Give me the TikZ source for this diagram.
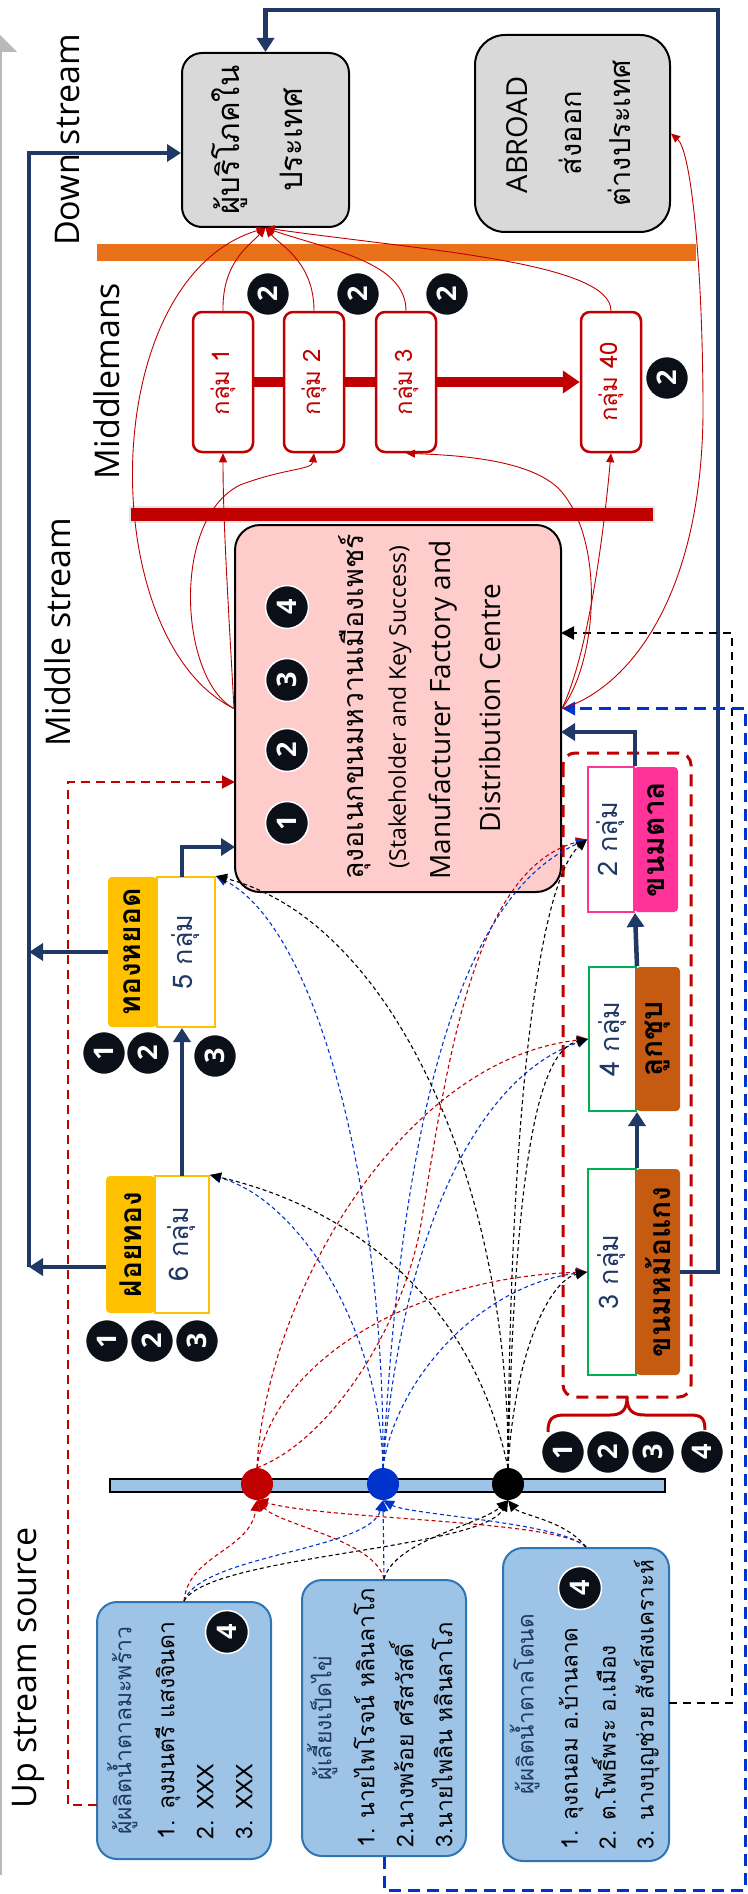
\documentclass[tikz,border=0pt]{standalone}
\usepackage{fontspec}
\setmainfont{Open Sans}
\newfontfamily\thai[Script=Thai]{Loma}
\usetikzlibrary{arrows.meta,calc}
\definecolor{navy}{HTML}{203864}
\definecolor{dred}{HTML}{C00000}
\definecolor{obar}{HTML}{E97119}
\definecolor{pinkfill}{HTML}{FFCCCC}
\definecolor{cgray}{HTML}{D9D9D9}
\definecolor{gold}{HTML}{FFC000}
\definecolor{kbrown}{HTML}{C55A11}
\definecolor{hotpink}{HTML}{FF3399}
\definecolor{kgreen}{HTML}{00B050}
\definecolor{lblue}{HTML}{9DC3E6}
\definecolor{bborder}{HTML}{2E75B6}
\definecolor{dblue}{HTML}{0033CC}
\definecolor{nblack}{HTML}{0B0F17}
\newcommand\rot[1]{\rotatebox{90}{#1}}
\newcommand\fsz[2]{\fontsize{#1}{#2}\selectfont}
\tikzset{
  lbl/.style={font=\fsz{34}{40}, inner sep=0pt},
  txt/.style={inner sep=0pt},
  numc/.style={circle, fill=nblack, draw=white, line width=1.5pt, minimum size=43pt, inner sep=0pt, text=white, font=\bfseries\fsz{27}{27}},
  navyarr/.style={draw=navy, line width=4.5pt, -{Triangle[length=14pt,width=17pt]}},
  rarr/.style={draw=dred, line width=0.9pt, -{Triangle[length=9pt,width=8pt]}},
  dsh/.style={line width=1.1pt, dash pattern=on 4pt off 3pt, -{Triangle[length=11pt,width=10pt]}},
  cbox/.style={draw=black, line width=2pt, fill=cgray, rounded corners=20pt, inner sep=0pt},
  mbox/.style={draw=dred, line width=2.5pt, fill=white, rounded corners=9pt, minimum width=60pt, minimum height=140pt, inner sep=0pt, text=dred, font=\thai\fsz{24}{24}},
  kwhite/.style={fill=white, line width=2pt, inner sep=0pt, text=navy, font=\thai\fsz{27}{27}},
  klabel/.style={rounded corners=4pt, inner sep=0pt, text=black, font=\thai\bfseries\fsz{30}{30}},
  sbox/.style={draw=bborder, line width=2pt, fill=lblue, rounded corners=20pt, inner sep=0pt},
  dotc/.style={circle, minimum size=32pt, inner sep=0pt}
}
\begin{document}
\begin{tikzpicture}[x=1pt,y=-1pt]
\useasboundingbox (0,0) rectangle (747,1894);
% axis arrow at the left edge
\draw[gray!55, line width=1.5pt] (1,1875) -- (1,50);
\fill[gray!55] (-17,52) -- (17,52) -- (0,35) -- cycle;

% stage labels
\node[lbl] (lup) at (28,1668) {\rot{Up stream source}};
\node[lbl] (ldown) at (68,140) {\rot{Down stream}};
\node[lbl] (lmid) at (58,632) {\rot{Middle stream}};
\node[lbl] (lmm) at (107,381) {\rot{Middlemans}};

% bars
\fill[obar] (97,244) rectangle (696,261);
\fill[gray!20] (129,506) rectangle (655,523);
\fill[dred] (131,508) rectangle (653,521);

% consumers
\node[cbox, minimum width=167pt, minimum height=174pt] (cons) at (265.5,140) {};
\node[txt, font=\thai\fsz{31}{31}] (consA) at (230,140) {\rot{ผู้บริโภคใน}};
\node[txt, font=\thai\fsz{31}{31}] (consB) at (291,140) {\rot{ประเทศ}};
\node[cbox, rounded corners=30pt, minimum width=195pt, minimum height=197pt] (abroad) at (572.5,133.5) {};
\node[txt, font=\fsz{29}{29}] (abA) at (517,135) {\rot{ABROAD}};
\node[txt, font=\thai\fsz{29}{29}] (abB) at (570,133) {\rot{ส่งออก}};
\node[txt, font=\thai\fsz{29}{29}] (abC) at (619,133) {\rot{ต่างประเทศ}};

% middlemen
\node[mbox] (g1) at (223,382) {\rot{กลุ่ม 1}};
\node[mbox] (g2) at (314,382) {\rot{กลุ่ม 2}};
\node[mbox] (g3) at (406,382) {\rot{กลุ่ม 3}};
\node[mbox] (g40) at (611,382) {\rot{กลุ่ม 40}};
\draw[dred, line width=10pt] (g1.east) -- (g2.west);
\draw[dred, line width=10pt] (g2.east) -- (g3.west);
\draw[dred, line width=10pt, -{Triangle[length=17pt,width=22pt]}] (g3.east) -- (g40.west);
\node[numc] (m1) at (268,294) {\rot{2}};
\node[numc] (m2) at (358,294) {\rot{2}};
\node[numc] (m3) at (447,294) {\rot{2}};
\node[numc] (m4) at (667,378) {\rot{2}};

% pink centre
\node[draw=black, line width=2pt, fill=pinkfill, rounded corners=25pt, minimum width=326pt, minimum height=367pt] (pink) at (398,708.5) {};
\node[numc] (p1) at (287,823) {\rot{1}};
\node[numc] (p2) at (287,750) {\rot{2}};
\node[numc] (p3) at (287,680) {\rot{3}};
\node[numc] (p4) at (287,607) {\rot{4}};
\node[txt, font=\thai\fsz{28.5}{28}] (pt1) at (355,707) {\rot{ลุงอเนกขนมหวานเมืองเพชร์}};
\node[txt, font=\fsz{23}{24}] (pt2) at (400,707) {\rot{(Stakeholder and Key Success)}};
\node[txt, font=\fsz{28}{30}] (pt3) at (443,710) {\rot{Manufacturer Factory and}};
\node[txt, font=\fsz{28}{30}] (pt4) at (490,708) {\rot{Distribution Centre}};
\coordinate (pinkR) at (235,782);
\coordinate (pinkN) at (235,847);
\coordinate (pinkE1) at (561,633);
\coordinate (pinkE2) at (561,732);

% khanom group
\draw[dred, line width=3pt, dash pattern=on 12pt off 8pt, rounded corners=12pt] (563,753) rectangle (691,1397);
\node[kwhite, draw=hotpink, minimum width=46pt, minimum height=145pt] (tanW) at (611,839.5) {\rot{2 กลุ่ม}};
\node[klabel, fill=hotpink, minimum width=44pt, minimum height=145pt] (tanL) at (656,839.5) {\rot{ขนมตาล}};
\node[kwhite, draw=kgreen, minimum width=47pt, minimum height=144pt] (chubW) at (612.5,1039) {\rot{4 กลุ่ม}};
\node[klabel, fill=kbrown, minimum width=44pt, minimum height=144pt] (chubL) at (658,1039) {\rot{ลูกชุบ}};
\node[kwhite, draw=kgreen, minimum width=48pt, minimum height=206pt] (mkW) at (612,1272) {\rot{3 กลุ่ม}};
\node[klabel, fill=kbrown, minimum width=44pt, minimum height=206pt] (mkL) at (658,1272) {\rot{ขนมหม้อแกง}};
\draw[navyarr] (mkW.north east) -- (chubW.south east);
\draw[navyarr] (chubW.north east) -- (tanW.south east);
\draw[navyarr] (tanW.north east) |- (pinkE2);
\draw[dred, line width=3pt] (548,1432) .. controls (548,1419) and (552,1415) .. (565,1415) -- (610,1415) .. controls (622,1415) and (627,1410) .. (627,1397) .. controls (627,1410) and (632,1415) .. (645,1415) -- (690,1415) .. controls (703,1415) and (705,1419) .. (705,1432);
\node[numc] (k1) at (563,1452) {\rot{1}};
\node[numc] (k2) at (608,1452) {\rot{2}};
\node[numc] (k3) at (653,1452) {\rot{3}};
\node[numc] (k4) at (702,1452) {\rot{4}};

% golden threads
\node[kwhite, draw=gold, minimum width=54pt, minimum height=137pt] (foyW) at (182,1244.5) {\rot{6 กลุ่ม}};
\node[klabel, fill=gold, minimum width=49pt, minimum height=137pt] (foyL) at (130.5,1244.5) {\rot{ฝอยทอง}};
\node[kwhite, draw=gold, minimum width=58pt, minimum height=150pt] (tongW) at (186,952) {\rot{5 กลุ่ม}};
\node[klabel, fill=gold, minimum width=49pt, minimum height=150pt] (tongL) at (132.5,952) {\rot{ทองหยอด}};
\node[numc] (f1) at (107,1341) {\rot{1}};
\node[numc] (f2) at (152,1341) {\rot{2}};
\node[numc] (f3) at (197,1341) {\rot{3}};
\node[numc] (t1) at (104,1053) {\rot{1}};
\node[numc] (t2) at (148,1053) {\rot{2}};
\node[numc] (t3) at (215,1056) {\rot{3}};
\coordinate (foytop) at (182,1176);
\draw[navyarr] (foytop) -- (foytop |- tongW.south);
\coordinate (tongtop) at (182,877);
\draw[navyarr] (tongtop) |- (pinkN);

% navy feedback lines
\coordinate (lb) at (29,1267);
\coordinate (lt) at (29,153);
\coordinate (fo) at (106,1267);
\coordinate (to) at (108,952);
\draw[navyarr] (lb) -- (lt) -- (lt -| cons.west);
\draw[navyarr] (fo) -- (fo -| lb);
\draw[navyarr] (to) -- (to -| lb);
\coordinate (tr) at (718,10);
\draw[navyarr] (mkL.east) -| (tr) -| (cons.north);

% suppliers
\node[sbox, minimum width=174pt, minimum height=257pt] (box1) at (184,1730.5)
  {\rot{\thai\fsz{23}{39}\begin{tabular}{@{}l@{}}\multicolumn{1}{@{}c@{}}{\color{navy}ผู้ผลิตน้ำตาลมะพร้าว}\\[4pt]1. ลุงมนตรี แสงจินดา\\2. XXX\\3. XXX\end{tabular}}};
\node[sbox, minimum width=164pt, minimum height=276pt] (box2) at (384,1718)
  {\rot{\thai\fsz{23}{39}\begin{tabular}{@{}l@{}}\multicolumn{1}{@{}c@{}}{\color{navy}ผู้เลี้ยงเป็ดไข่}\\[4pt]1. นายไพโรจน์ หลินลาโภ\\2.นางพร้อย ศรีสวัสดิ์\\3.นายไพลิน หลินลาโภ\end{tabular}}};
\node[sbox, minimum width=166pt, minimum height=313pt] (box3) at (586,1704.5)
  {\rot{\thai\fsz{22.5}{38}\begin{tabular}{@{}l@{}}\multicolumn{1}{@{}c@{}}{\color{navy}ผู้ผลิตน้ำตาลโตนด}\\[6pt]1. ลุงถนอม อ.บ้านลาด\\2. ต.โพธิ์พระ อ.เมือง\\3. นางบุญช่วย สังข์สงเคราะห์\end{tabular}}};
\node[numc] (b1n) at (227,1632) {\rot{4}};
\node[numc] (b3n) at (580,1588) {\rot{4}};

% long dashed feedback lines
\coordinate (c1) at (97,1805);
\draw[dred, line width=2pt, dash pattern=on 9pt off 6pt, -{Triangle[length=13pt,width=13pt]}] (c1) -| (68,782) -- (pinkR);
\coordinate (c3) at (669,1703);
\draw[black, line width=2pt, dash pattern=on 8pt off 6pt, -{Triangle[length=13pt,width=13pt]}] (c3) -| (732,633) -- (pinkE1);
\draw[dblue, line width=3pt, dash pattern=on 12pt off 7pt, -{Triangle[length=13pt,width=13pt]}] (box2.south) |- (745,1890) |- (pink.east);

% hub bar with dots
\draw[fill=lblue, line width=1.5pt] (110,1479) rectangle (665,1492);
\node[dotc, fill=dred] (R) at (257,1484) {};
\node[dotc, fill=dblue] (B) at (383,1484) {};
\node[dotc, fill=black] (K) at (508,1484) {};

% suppliers -> dots
\draw[dsh, dred] (box1.north) .. controls (188,1555) and (250,1550) .. (R.south);
\draw[dsh, dblue] (box1.north) .. controls (200,1555) and (370,1550) .. (B.south);
\draw[dsh, black] (box1.north) .. controls (210,1555) and (480,1550) .. (K.south);
\draw[dsh, dred] (box2.north) .. controls (375,1540) and (280,1525) .. (R.south);
\draw[dsh, dblue] (box2.north) -- (B.south);
\draw[dsh, black] (box2.north) .. controls (395,1540) and (480,1525) .. (K.south);
\draw[dsh, dred] (box3.north) .. controls (560,1520) and (330,1520) .. (R.south);
\draw[dsh, dblue] (box3.north) .. controls (560,1522) and (410,1515) .. (B.south);
\draw[dsh, black] (box3.north) .. controls (565,1520) and (520,1515) .. (K.south);

% dots -> products
\draw[dsh, dred] (R.north) .. controls (270,1370) and (400,1278) .. (mkW.west);
\draw[dsh, dred] (R.north) .. controls (265,1300) and (400,1060) .. (chubW.west);
\draw[dsh, dred] (R.north) .. controls (330,1440) and (400,1330) .. (420,1230) .. controls (445,1080) and (470,870) .. (tanW.west);
\draw[dsh, dblue] (B.north) .. controls (380,1330) and (300,1200) .. (foyW.north east);
\draw[dsh, dblue] (B.north) .. controls (385,1200) and (320,930) .. (tongW.north east);
\draw[dsh, dblue] (B.north) .. controls (400,1150) and (450,900) .. (tanW.west);
\draw[dsh, dblue] (B.north) .. controls (400,1250) and (470,1080) .. (chubW.west);
\draw[dsh, dblue] (B.north) .. controls (395,1380) and (480,1285) .. (mkW.west);
\draw[dsh, black] (K.north) .. controls (470,1290) and (340,1205) .. (foyW.north east);
\draw[dsh, black] (K.north) .. controls (510,1180) and (390,920) .. (tongW.north east);
\draw[dsh, black] (K.north) .. controls (510,1100) and (540,880) .. (tanW.west);
\draw[dsh, black] (K.north) .. controls (515,1150) and (540,1050) .. (chubW.west);
\draw[dsh, black] (K.north) .. controls (515,1350) and (550,1280) .. (mkW.west);

% red flows to consumers / middlemen / abroad
\draw[rarr] (g1.north) .. controls (222,262) and (250,245) .. (cons.south);
\draw[rarr] (g2.north) .. controls (314,262) and (280,245) .. (cons.south);
\draw[rarr] (g3.north) .. controls (406,262) and (330,250) .. (cons.south);
\draw[rarr] (g40.north) .. controls (611,262) and (420,250) .. (cons.south);
\draw[rarr] (pink.west) .. controls (95,640) and (95,280) .. (cons.south);
\draw[rarr] (pink.west) .. controls (228,600) and (223,520) .. (g1.south);
\draw[rarr] (pink.west) .. controls (180,680) and (170,520) .. (240,485) .. controls (285,468) and (312,470) .. (g2.south);
\draw[rarr] (pink.east) .. controls (598,660) and (605,540) .. (560,490) .. controls (530,458) and (450,455) .. (g3.south);
\draw[rarr] (pink.east) .. controls (590,650) and (605,520) .. (g40.south);
\draw[rarr] (pink.east) .. controls (625,690) and (705,600) .. (703,400) .. controls (702,250) and (690,150) .. (abroad.east);
\end{tikzpicture}
\end{document}
